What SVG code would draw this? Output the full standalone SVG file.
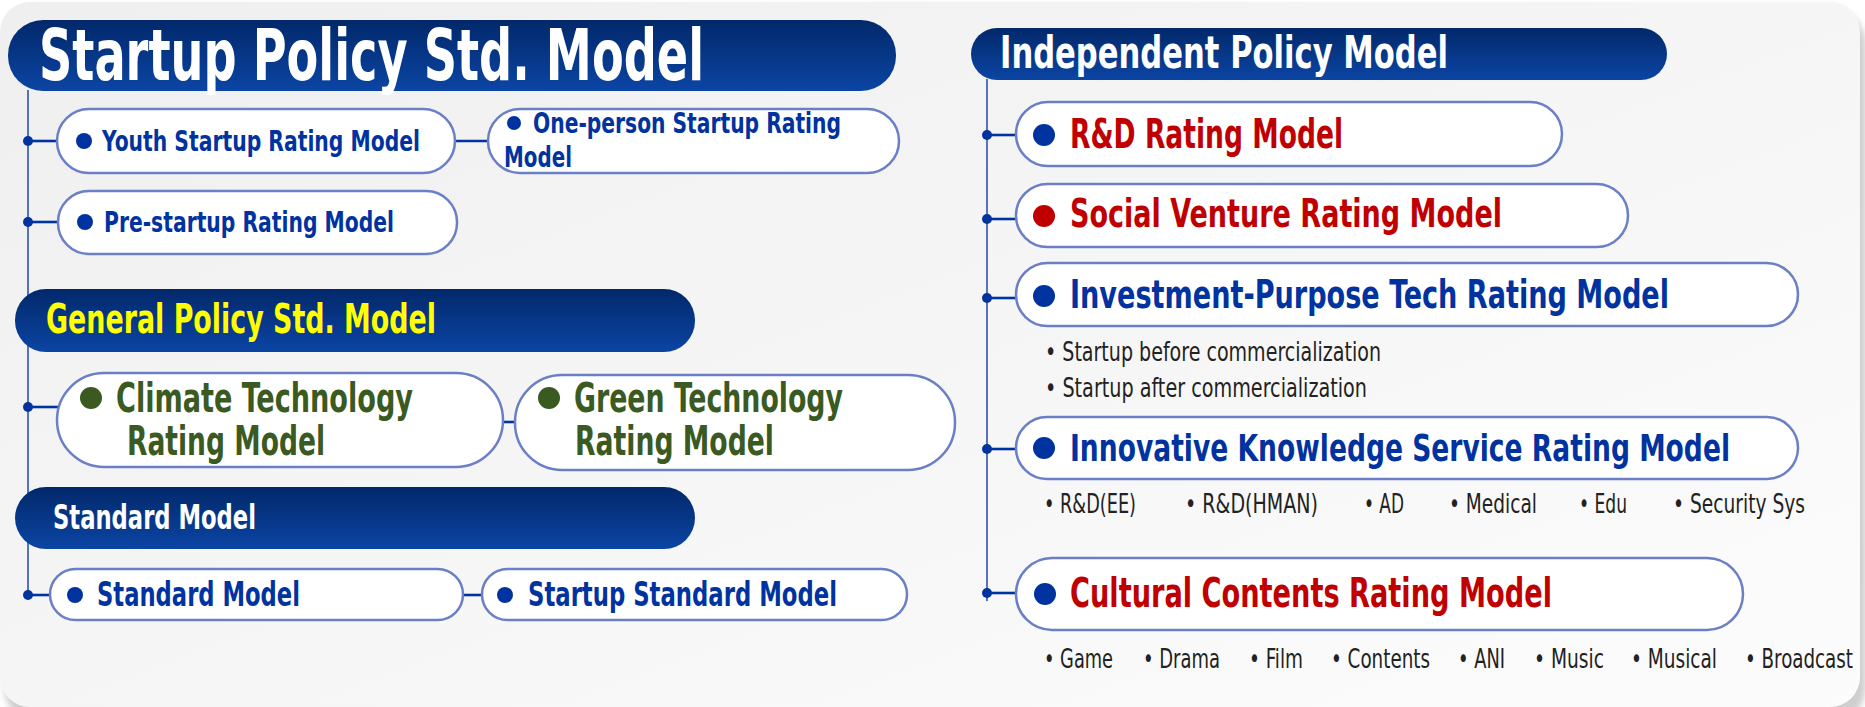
<svg xmlns="http://www.w3.org/2000/svg" width="1865" height="707" viewBox="0 0 1865 707">
<defs>
<linearGradient id="card" x1="0" y1="0" x2="1" y2="1">
<stop offset="0" stop-color="#efefef"/>
<stop offset="1" stop-color="#fcfcfc"/>
</linearGradient>
<linearGradient id="hdr" x1="0" y1="0" x2="0" y2="1">
<stop offset="0" stop-color="#02286a"/>
<stop offset="1" stop-color="#0b45a4"/>
</linearGradient>
<filter id="sh" x="-5%" y="-5%" width="110%" height="110%">
<feGaussianBlur stdDeviation="3"/>
</filter>
<style>
.t{font-family:"Liberation Sans Narrow","DejaVu Sans Condensed","Liberation Sans",sans-serif;font-weight:bold}
.s{font-family:"Liberation Sans Narrow","DejaVu Sans Condensed","Liberation Sans",sans-serif;font-weight:normal;fill:#222222;font-size:26px}
.w{fill:#ffffff}
.b{fill:#0033a0}
.r{fill:#c00000}
.g{fill:#3a5a22}
.y{fill:#ffff00}
.hdr{fill:url(#hdr)}
.pill{fill:#ffffff;stroke:#6b7fc6;stroke-width:2.5}
.vl{stroke:#2c52b2;stroke-width:1.6;fill:none}
.st{stroke:#0033a0;stroke-width:2.6;fill:none}
.dot{fill:#0033a0}
</style>
</defs>
<rect x="4" y="6" width="1862" height="720" rx="40" fill="#cfcfcf" filter="url(#sh)"/>
<rect x="0" y="2" width="1860" height="705" rx="30" fill="url(#card)"/>

<g id="connectors">
<line class="vl" x1="28" y1="90" x2="28" y2="595"/>
<line class="st" x1="28" y1="141" x2="57" y2="141"/>
<line class="st" x1="455" y1="141" x2="488" y2="141"/>
<line class="st" x1="28" y1="222" x2="58" y2="222"/>
<line class="st" x1="28" y1="407" x2="59" y2="407"/>
<line class="st" x1="503" y1="422" x2="515" y2="422"/>
<line class="st" x1="28" y1="595" x2="50" y2="595"/>
<line class="st" x1="463" y1="595" x2="482" y2="595"/>
<circle class="dot" cx="28" cy="141" r="5"/>
<circle class="dot" cx="28" cy="222" r="5"/>
<circle class="dot" cx="28" cy="407" r="5"/>
<circle class="dot" cx="28" cy="595" r="5"/>
<line class="vl" x1="987" y1="79" x2="987" y2="601"/>
<line class="st" x1="987" y1="135" x2="1016" y2="135"/>
<line class="st" x1="987" y1="219" x2="1016" y2="219"/>
<line class="st" x1="987" y1="298" x2="1016" y2="298"/>
<line class="st" x1="987" y1="449" x2="1016" y2="449"/>
<line class="st" x1="987" y1="593" x2="1016" y2="593"/>
<circle class="dot" cx="987" cy="135" r="5"/>
<circle class="dot" cx="987" cy="219" r="5"/>
<circle class="dot" cx="987" cy="298" r="5"/>
<circle class="dot" cx="987" cy="449" r="5"/>
<circle class="dot" cx="987" cy="593" r="5"/>
</g>

<g id="startup-header">
<rect class="hdr" x="8" y="20" width="888" height="71" rx="35"/>
<text class="t w" x="39" y="80" font-size="72" textLength="665" lengthAdjust="spacingAndGlyphs">Startup Policy Std. Model</text>
</g>
<g id="youth">
<rect class="pill" x="57" y="109" width="398" height="64" rx="32"/>
<circle class="b" cx="84" cy="141" r="8"/>
<text class="t b" x="102" y="151" font-size="29" textLength="318" lengthAdjust="spacingAndGlyphs">Youth Startup Rating Model</text>
</g>
<g id="one-person">
<rect class="pill" x="488" y="109" width="411" height="64" rx="32"/>
<circle class="b" cx="514" cy="123" r="7"/>
<text class="t b" x="533" y="133" font-size="28" textLength="308" lengthAdjust="spacingAndGlyphs">One-person Startup Rating</text>
<text class="t b" x="504" y="167" font-size="28" textLength="68" lengthAdjust="spacingAndGlyphs">Model</text>
</g>
<g id="pre-startup">
<rect class="pill" x="58" y="191" width="399" height="63" rx="31"/>
<circle class="b" cx="85" cy="222" r="8"/>
<text class="t b" x="104" y="232" font-size="29" textLength="290" lengthAdjust="spacingAndGlyphs">Pre-startup Rating Model</text>
</g>
<g id="general-header">
<rect class="hdr" x="15" y="289" width="680" height="63" rx="31"/>
<text class="t y" x="46" y="333" font-size="41" textLength="390" lengthAdjust="spacingAndGlyphs">General Policy Std. Model</text>
</g>
<g id="climate">
<rect class="pill" x="57" y="373" width="446" height="94" rx="47"/>
<circle class="g" cx="91" cy="398" r="11"/>
<text class="t g" x="116" y="412" font-size="40" textLength="297" lengthAdjust="spacingAndGlyphs">Climate Technology</text>
<text class="t g" x="127" y="455" font-size="40" textLength="198" lengthAdjust="spacingAndGlyphs">Rating Model</text>
</g>
<g id="green">
<rect class="pill" x="515" y="375" width="440" height="95" rx="47"/>
<circle class="g" cx="549" cy="398" r="11"/>
<text class="t g" x="574" y="412" font-size="40" textLength="269" lengthAdjust="spacingAndGlyphs">Green Technology</text>
<text class="t g" x="575" y="455" font-size="40" textLength="199" lengthAdjust="spacingAndGlyphs">Rating Model</text>
</g>
<g id="standard-header">
<rect class="hdr" x="15" y="487" width="680" height="62" rx="31"/>
<text class="t w" x="53" y="529" font-size="33" textLength="203" lengthAdjust="spacingAndGlyphs">Standard Model</text>
</g>
<g id="standard">
<rect class="pill" x="50" y="569" width="413" height="51" rx="25.5"/>
<circle class="b" cx="75" cy="595" r="8"/>
<text class="t b" x="97" y="606" font-size="33" textLength="203" lengthAdjust="spacingAndGlyphs">Standard Model</text>
</g>
<g id="startup-standard">
<rect class="pill" x="482" y="569" width="425" height="51" rx="25.5"/>
<circle class="b" cx="505" cy="595" r="8"/>
<text class="t b" x="528" y="606" font-size="33" textLength="309" lengthAdjust="spacingAndGlyphs">Startup Standard Model</text>
</g>

<g id="independent-header">
<rect class="hdr" x="971" y="28" width="696" height="52" rx="26"/>
<text class="t w" x="1000" y="68" font-size="45" textLength="448" lengthAdjust="spacingAndGlyphs">Independent Policy Model</text>
</g>
<g id="rnd">
<rect class="pill" x="1016" y="102" width="546" height="64" rx="32"/>
<circle class="b" cx="1044" cy="135" r="11"/>
<text class="t r" x="1070" y="148" font-size="40" textLength="273" lengthAdjust="spacingAndGlyphs">R&amp;D Rating Model</text>
</g>
<g id="social">
<rect class="pill" x="1016" y="184" width="612" height="63" rx="31.5"/>
<circle class="r" cx="1044" cy="216" r="11"/>
<text class="t r" x="1070" y="227" font-size="39" textLength="432" lengthAdjust="spacingAndGlyphs">Social Venture Rating Model</text>
</g>
<g id="investment">
<rect class="pill" x="1016" y="263" width="782" height="63" rx="31.5"/>
<circle class="b" cx="1044" cy="296" r="11"/>
<text class="t b" x="1070" y="308" font-size="39" textLength="599" lengthAdjust="spacingAndGlyphs">Investment-Purpose Tech Rating Model</text>
<text class="s" x="1045" y="361" textLength="336" lengthAdjust="spacingAndGlyphs">• Startup before commercialization</text>
<text class="s" x="1045" y="397" textLength="322" lengthAdjust="spacingAndGlyphs">• Startup after commercialization</text>
</g>
<g id="innovative">
<rect class="pill" x="1016" y="417" width="782" height="62" rx="31"/>
<circle class="b" cx="1044" cy="448" r="11"/>
<text class="t b" transform="translate(1070,461) scale(0.75,1)" x="0" y="0" font-size="38" textLength="880" lengthAdjust="spacingAndGlyphs">Innovative Knowledge Service Rating Model</text>
<text class="s" x="1044" y="513" textLength="92" lengthAdjust="spacingAndGlyphs">• R&amp;D(EE)</text>
<text class="s" x="1185" y="513" textLength="133" lengthAdjust="spacingAndGlyphs">• R&amp;D(HMAN)</text>
<text class="s" x="1364" y="513" textLength="40" lengthAdjust="spacingAndGlyphs">• AD</text>
<text class="s" x="1449" y="513" textLength="88" lengthAdjust="spacingAndGlyphs">• Medical</text>
<text class="s" x="1579" y="513" textLength="48" lengthAdjust="spacingAndGlyphs">• Edu</text>
<text class="s" x="1673" y="513" textLength="132" lengthAdjust="spacingAndGlyphs">• Security Sys</text>
</g>
<g id="cultural">
<rect class="pill" x="1016" y="558" width="727" height="72" rx="36"/>
<circle class="b" cx="1045" cy="594" r="11"/>
<text class="t r" x="1070" y="607" font-size="40" textLength="482" lengthAdjust="spacingAndGlyphs">Cultural Contents Rating Model</text>
<text class="s" x="1044" y="668" textLength="69" lengthAdjust="spacingAndGlyphs">• Game</text>
<text class="s" x="1143" y="668" textLength="77" lengthAdjust="spacingAndGlyphs">• Drama</text>
<text class="s" x="1249" y="668" textLength="54" lengthAdjust="spacingAndGlyphs">• Film</text>
<text class="s" x="1331" y="668" textLength="99" lengthAdjust="spacingAndGlyphs">• Contents</text>
<text class="s" x="1458" y="668" textLength="47" lengthAdjust="spacingAndGlyphs">• ANI</text>
<text class="s" x="1534" y="668" textLength="70" lengthAdjust="spacingAndGlyphs">• Music</text>
<text class="s" x="1631" y="668" textLength="86" lengthAdjust="spacingAndGlyphs">• Musical</text>
<text class="s" transform="translate(1745,668) scale(0.85,1)" x="0" y="0" textLength="127" lengthAdjust="spacingAndGlyphs">• Broadcast</text>
</g>
</svg>
